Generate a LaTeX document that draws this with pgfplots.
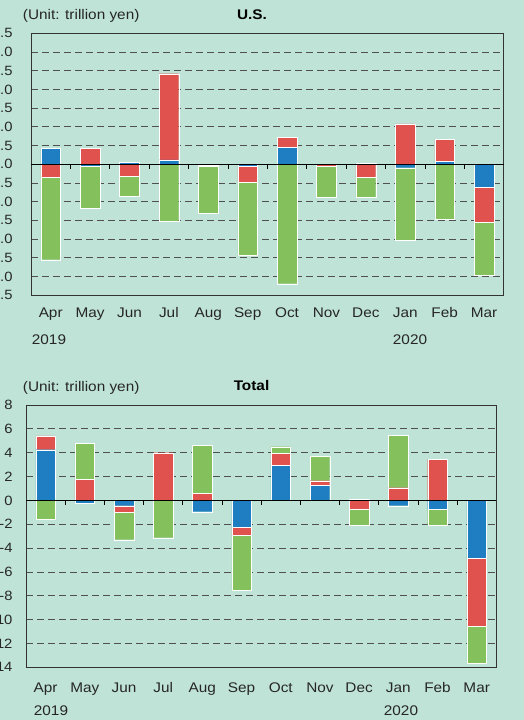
\documentclass[border=0pt]{standalone}
\usepackage{pgfplots}
\pgfplotsset{compat=1.18}
\usepackage{pgfplotstable}
\usepackage{fontspec}
\setmainfont{Liberation Sans}[FakeStretch=1.1]
\definecolor{bg}{HTML}{BFE3D6}
\definecolor{cblue}{HTML}{1F7EC2}
\definecolor{cred}{HTML}{E0524D}
\definecolor{cgreen}{HTML}{84C05C}
\definecolor{gridc}{HTML}{505050}

% U.S.: positive parts (bp rp gp) and negative parts (bn rn gn)
\pgfplotstableread{
x bp rp gp bn rn gn
0 0.42 0 0 0 -0.34 -2.21
1 0 0.42 0 -0.06 0 -1.12
2 0.06 0 0 0 -0.31 -0.54
3 0.12 2.30 0 0 0 -1.51
4 0 0 0 -0.03 -0.03 -1.25
5 0 0 0 -0.06 -0.41 -1.97
6 0.46 0.26 0 0 0 -3.19
7 0 0 0 0 -0.06 -0.81
8 0.03 0 0 0 -0.34 -0.54
9 0 1.08 0 -0.09 0 -1.95
10 0.08 0.59 0 0 0 -1.46
11 0 0 0 -0.62 -0.92 -1.43
}\us

% Total
\pgfplotstableread{
x bp rp gp bn rn gn
0 4.25 1.15 0 0 0 -1.57
1 0 1.79 2.99 -0.20 0 0
2 0 0 0 -0.45 -0.55 -2.30
3 0 4.00 0 0 0 -3.13
4 0 0.59 4.03 -0.95 0 0
5 0 0 0 -2.24 -0.67 -4.61
6 2.94 0.98 0.58 0 0 0
7 1.26 0.39 2.07 0 0 0
8 0.10 0 0 0 -0.76 -1.31
9 0 1.06 4.37 -0.45 0 0
10 0 3.44 0 -0.76 0 -1.34
11 0 0 0 -4.87 -5.70 -3.08
}\total

\pgfplotsset{
  base/.style={
    scale only axis, xmin=-0.5, xmax=11.5,
    /pgf/number format/assume math mode=true,
    ybar stacked, bar width=0.5,
  },
  main/.style={
    base,
    ymajorgrids,
    grid style={gridc, dash pattern=on 7bp off 4bp, line width=0.8bp},
    axis line style={black!80, line width=0.8bp},
    xtick={0,...,11},
    xticklabels={Apr,May,Jun,Jul,Aug,Sep,Oct,Nov,Dec,Jan,Feb,Mar},
    xtick style={draw=none}, ytick style={draw=none},
    xticklabel style={font=\fontsize{14}{16}\selectfont, text=black!85, text height=10bp, text depth=3bp},
    yticklabel style={font=\fontsize{13.5}{15}\selectfont, text=black!85},
  },
  zero/.style={
    base,
    axis x line*=middle, axis y line=none,
    axis line style={black, line width=0.8bp, -},
    xtick={0.5,1.5,...,10.5}, xticklabels={},
    xtick align=outside, major tick length=4.5bp,
    xtick style={black, line width=0.7bp},
    ytick=\empty,
    axis on top,
  },
  bars/.style={draw=white, line width=0.3bp},
}

\begin{document}
\begin{tikzpicture}
\fill[bg] (0,0) rectangle (524bp,720bp);

% ---------- U.S. ----------
\begin{axis}[main, at={(31bp,424.7bp)}, anchor=south west,
  width=472.7bp, height=262bp, ymin=-3.5, ymax=3.5,
  ytick={-3.5,-3,...,3.5},
  /pgf/number format/fixed, /pgf/number format/fixed zerofill, /pgf/number format/precision=1,
  yticklabel style={xshift=-15bp},
  xticklabel style={yshift=-9bp},
  title={U.S.}, title style={at={(0.4675,1)}, anchor=base, yshift=8bp, font=\bfseries\fontsize{14}{16}\selectfont},
]
\addplot[bars, fill=cblue] table[x=x, y=bp] {\us};
\addplot[bars, fill=cred] table[x=x, y=rp] {\us};
\addplot[bars, fill=cgreen] table[x=x, y=gp] {\us};
\end{axis}
\begin{axis}[zero, at={(31bp,424.7bp)}, anchor=south west,
  width=472.7bp, height=262bp, ymin=-3.5, ymax=3.5]
\addplot[bars, fill=cblue] table[x=x, y=bn] {\us};
\addplot[bars, fill=cred] table[x=x, y=rn] {\us};
\addplot[bars, fill=cgreen] table[x=x, y=gn] {\us};
\end{axis}
\node[anchor=base west, inner sep=0pt, font=\fontsize{14}{16}\selectfont, text=black!85] at (22.7bp,700.7bp) {(Unit: trillion yen)};
\node[anchor=base, font=\fontsize{14}{16}\selectfont, text=black!85] at (49bp,375bp) {2019};
\node[anchor=base, font=\fontsize{14}{16}\selectfont, text=black!85] at (410bp,375bp) {2020};

% ---------- Total ----------
\begin{axis}[main, at={(26bp,52.7bp)}, anchor=south west,
  width=470.3bp, height=262.3bp, ymin=-14, ymax=8,
  ytick={-14,-12,...,8},
  yticklabel style={xshift=-10bp},
  xticklabel style={yshift=-11.5bp},
  title={Total}, title style={at={(0.4795,1)}, anchor=base, yshift=9bp, font=\bfseries\fontsize{14}{16}\selectfont},
]
\addplot[bars, fill=cblue] table[x=x, y=bp] {\total};
\addplot[bars, fill=cred] table[x=x, y=rp] {\total};
\addplot[bars, fill=cgreen] table[x=x, y=gp] {\total};
\end{axis}
\begin{axis}[zero, at={(26bp,52.7bp)}, anchor=south west,
  width=470.3bp, height=262.3bp, ymin=-14, ymax=8]
\addplot[bars, fill=cblue] table[x=x, y=bn] {\total};
\addplot[bars, fill=cred] table[x=x, y=rn] {\total};
\addplot[bars, fill=cgreen] table[x=x, y=gn] {\total};
\end{axis}
\node[anchor=base west, inner sep=0pt, font=\fontsize{14}{16}\selectfont, text=black!85] at (22.7bp,328.3bp) {(Unit: trillion yen)};
\node[anchor=base, font=\fontsize{14}{16}\selectfont, text=black!85] at (51bp,5bp) {2019};
\node[anchor=base, font=\fontsize{14}{16}\selectfont, text=black!85] at (401bp,5bp) {2020};

\pgfresetboundingbox
\path[use as bounding box] (0,0) rectangle (524bp,720bp);
\end{tikzpicture}
\end{document}
